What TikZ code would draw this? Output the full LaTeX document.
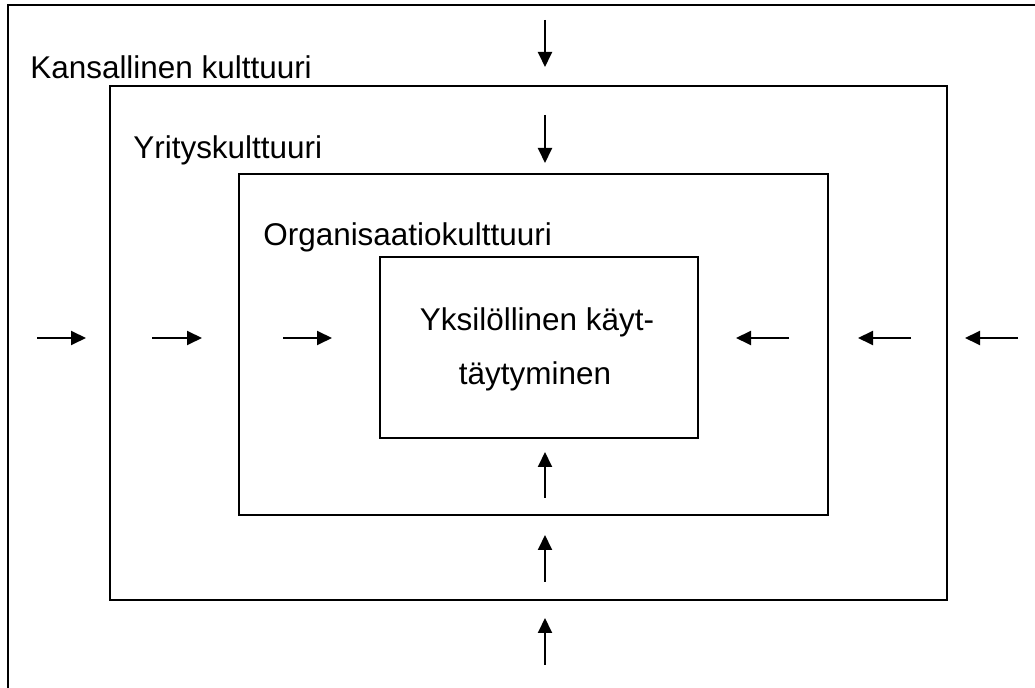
\documentclass[tikz,border=0pt]{standalone}
\usepackage{fontspec}
\setmainfont{Liberation Sans}
\usetikzlibrary{arrows.meta}

\begin{document}
\begin{tikzpicture}[x=0.02cm,y=-0.02cm,
  kehys/.style={draw,line width=1.2pt,inner sep=0pt},
  nuoli/.style={line width=1.1pt,-{Triangle[length=0.3cm,width=0.28cm]}},
  otsikko/.style={anchor=base west,inner sep=0pt},
  rivi/.style={anchor=base,inner sep=0pt}]
\fontsize{17.9}{19}\selectfont
\useasboundingbox (0,0) rectangle (1035,688);
\clip (0,0) rectangle (1035,688);

% kehykset
\node[kehys,minimum width=21.04cm,minimum height=14.1cm] (kansa) at (534,357.5) {};
\node[kehys,minimum width=16.74cm,minimum height=10.28cm] (yritys) at (528.5,343) {};
\node[kehys,minimum width=11.78cm,minimum height=6.82cm] (org) at (533.5,344.5) {};
\node[kehys,minimum width=6.36cm,minimum height=3.62cm] (yksilo) at (539,347.5) {};

% tekstit
\node[otsikko] (kansateksti) at (30,79) {Kansallinen kulttuuri};
\node[otsikko] (yritysteksti) at (133,159) {Yrityskulttuuri};
\node[otsikko] (orgteksti) at (263,246) {Organisaatiokulttuuri};
\node[rivi] (rivi1) at (537,331) {Yksilöllinen käyt-};
\node[rivi] (rivi2) at (535,385) {täytyminen};

% nuolet
\foreach \a/\b in {20/67,115/163,498/452,582/535,665/618}
  \draw[nuoli] (545,\a) -- (545,\b);
\foreach \a/\b in {37/86,152/202,283/332,789/736,911/858,1018/965}
  \draw[nuoli] (\a,338) -- (\b,338);
\end{tikzpicture}
\end{document}
